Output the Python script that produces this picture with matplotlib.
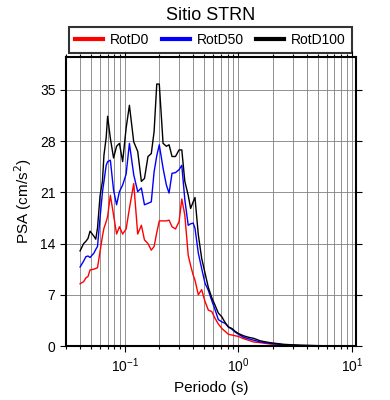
import numpy as np
import matplotlib.pyplot as plt
from matplotlib.ticker import MultipleLocator, LogLocator, NullFormatter

plt.rcParams['font.family'] = ['Liberation Sans', 'DejaVu Sans']

# Periodos (s)
periodo = [0.040, 0.043, 0.045, 0.047, 0.049, 0.053, 0.055, 0.057, 0.060, 0.063,
           0.065, 0.068, 0.070, 0.074, 0.079, 0.084, 0.089, 0.095, 0.102, 0.109,
           0.119, 0.129, 0.139, 0.148, 0.159, 0.170, 0.180, 0.190, 0.200, 0.216,
           0.231, 0.244, 0.259, 0.278, 0.299, 0.316, 0.336, 0.360, 0.378, 0.398,
           0.413, 0.442, 0.473, 0.506, 0.542, 0.581, 0.620, 0.664, 0.712, 0.762,
           0.815, 0.874, 0.935, 1.000, 1.107, 1.220, 1.360, 1.560, 1.910, 2.500,
           3.500, 5.000, 7.000, 10.00]

# PSA (cm/s2)
rotd100 = [13.0, 14.0, 14.3, 14.7, 15.7, 15.0, 14.6, 16.1, 20.5, 22.5,
           26.1, 28.5, 31.4, 28.4, 25.7, 27.3, 27.7, 25.2, 29.8, 32.9,
           27.9, 26.6, 22.5, 22.9, 25.9, 26.3, 29.3, 35.8, 35.8, 27.7,
           27.3, 27.5, 25.9, 25.9, 26.8, 26.8, 22.5, 20.6, 18.8, 19.7,
           20.3, 15.2, 12.0, 10.0, 8.0, 6.6, 5.6, 4.5, 4.0, 3.2,
           2.6, 2.4, 2.0, 1.7, 1.4, 1.2, 1.05, 0.7, 0.45, 0.23,
           0.10, 0.05, 0.02, 0.01]
rotd50 = [10.8, 11.6, 12.2, 12.3, 12.1, 12.7, 13.2, 13.6, 17.5, 21.0,
          22.5, 24.7, 25.2, 25.4, 21.3, 19.3, 21.1, 22.0, 23.5, 27.7,
          23.4, 21.1, 21.6, 19.3, 19.5, 19.7, 23.8, 26.0, 27.5, 24.3,
          22.0, 20.9, 23.6, 23.7, 24.1, 24.7, 20.0, 16.5, 16.7, 16.8,
          16.1, 12.7, 10.6, 8.6, 7.6, 6.2, 5.0, 3.6, 3.3, 3.1,
          2.6, 2.3, 1.9, 1.6, 1.2, 1.0, 0.8, 0.55, 0.36, 0.18,
          0.08, 0.04, 0.02, 0.01]
rotd0 = [8.5, 8.8, 9.3, 9.5, 10.4, 10.5, 10.6, 10.7, 12.9, 15.0,
         16.1, 17.0, 17.7, 20.6, 17.9, 15.3, 16.3, 15.3, 16.0, 18.8,
         22.2, 15.3, 16.5, 14.5, 14.0, 13.1, 13.6, 15.5, 17.1, 17.1,
         17.1, 17.2, 16.3, 16.0, 17.0, 20.1, 17.9, 12.4, 11.0, 9.7,
         9.0, 7.0, 7.7, 6.1, 4.9, 4.7, 3.8, 3.0, 2.4, 2.0,
         1.6, 1.5, 1.4, 1.3, 1.0, 0.8, 0.55, 0.45, 0.27, 0.13,
         0.06, 0.03, 0.01, 0.01]

fig = plt.figure(figsize=(3.9, 4.0), dpi=100)
ax = fig.add_axes([0.169, 0.135, 0.744, 0.7225])

ax.plot(periodo, rotd0, color='red', lw=1.0, label='RotD0')
ax.plot(periodo, rotd50, color='blue', lw=1.0, label='RotD50')
ax.plot(periodo, rotd100, color='black', lw=1.0, label='RotD100')

ax.set_xscale('log')
ax.set_xlim(0.03, 10.9)
ax.set_ylim(0, 39.5)
ax.yaxis.set_major_locator(MultipleLocator(7))
ax.xaxis.set_major_locator(LogLocator(base=10))
ax.xaxis.set_minor_locator(LogLocator(base=10, subs=np.arange(2, 10)))
ax.xaxis.set_minor_formatter(NullFormatter())

# rejilla
ax.grid(True, which='both', axis='x', color='0.5', lw=0.6)
ax.grid(True, which='major', axis='y', color='0.5', lw=0.6)

ax.tick_params(which='both', direction='out', top=True, right=True, labelsize=10, width=0.8)
ax.tick_params(which='major', length=4)
ax.tick_params(which='minor', length=2.5)
for s in ax.spines.values():
    s.set_linewidth(1.5)

ax.set_xlabel('Periodo (s)', fontsize=11)
ax.set_ylabel('PSA (cm/s$^2$)', fontsize=11)
ax.set_title('Sitio STRN', fontsize=13, pad=27)

leg = fig.legend(loc='center', bbox_to_anchor=(0.54, 0.9), ncol=3, fontsize=10,
                 frameon=True, fancybox=False, edgecolor='black', handlelength=2.0,
                 columnspacing=0.9, borderpad=0.45, handletextpad=0.5)
leg.get_frame().set_linewidth(1.5)
for l in leg.get_lines():
    l.set_linewidth(3)

plt.savefig('out.png', dpi=100)
